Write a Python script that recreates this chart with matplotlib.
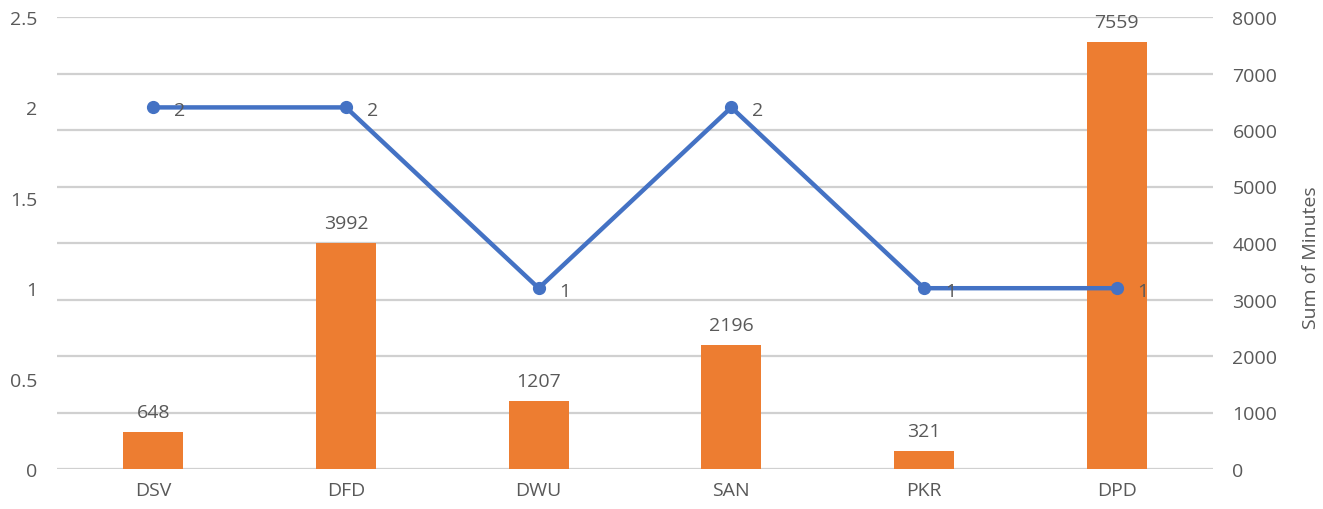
import matplotlib
matplotlib.use("Agg")
import matplotlib.pyplot as plt
import numpy as np

categories = ["DSV", "DFD", "DWU", "SAN", "PKR", "DPD"]
minutes = [648, 3992, 1207, 2196, 321, 7559]
counts = [2, 2, 1, 2, 1, 1]

text_color = "#595959"
fs = 14
plt.rcParams["font.family"] = ["Open Sans", "DejaVu Sans"]
plt.rcParams["font.size"] = fs

fig = plt.figure(figsize=(13.23, 5.10), dpi=100)
ax1 = fig.add_axes([57 / 1323, 40 / 510, (1213 - 57) / 1323, 452 / 510])
ax2 = ax1.twinx()

x = np.arange(len(categories))

# bars on the right axis
ax2.bar(x, minutes, width=0.31, color="#ED7D31", zorder=2)
ax2.set_ylim(0, 8000)
ax2.set_yticks(np.arange(0, 8001, 1000))
ax2.grid(axis="y", color="#D0D0D0", linewidth=1.6, zorder=0)
ax2.set_axisbelow(True)
for xi, v in zip(x, minutes):
    ax2.annotate(str(v), (xi, v), xytext=(0, 8), textcoords="offset points",
                 ha="center", va="bottom", color=text_color, fontsize=fs)
ax2.set_ylabel("Sum of Minutes", color=text_color)
ax2.yaxis.set_label_coords(1.077, 0.47)

# line on the left axis, drawn above the bars
ax1.set_zorder(ax2.get_zorder() + 1)
ax1.patch.set_visible(False)
ax1.plot(x, counts, color="#4472C4", linewidth=3.2, marker="o",
         markersize=8.5, zorder=3)
for xi, v in zip(x, counts):
    ax1.annotate(str(v), (xi, v), xytext=(19, -2), textcoords="offset points",
                 ha="center", va="center", color=text_color, fontsize=fs)
ax1.set_ylim(0, 2.5)
ax1.set_yticks([0, 0.5, 1, 1.5, 2, 2.5])
ax1.set_yticklabels(["0", "0.5", "1", "1.5", "2", "2.5"])
ax1.set_xlim(-0.5, len(categories) - 0.5)
ax1.set_xticks(x)
ax1.set_xticklabels(categories)

for ax in (ax1, ax2):
    for s in ax.spines.values():
        s.set_visible(False)
    ax.tick_params(length=0, colors=text_color, labelsize=fs)
ax1.tick_params(axis="y", pad=14)
ax1.tick_params(axis="x", pad=9)
ax2.tick_params(axis="y", pad=14)

fig.savefig("out.png", dpi=100)
